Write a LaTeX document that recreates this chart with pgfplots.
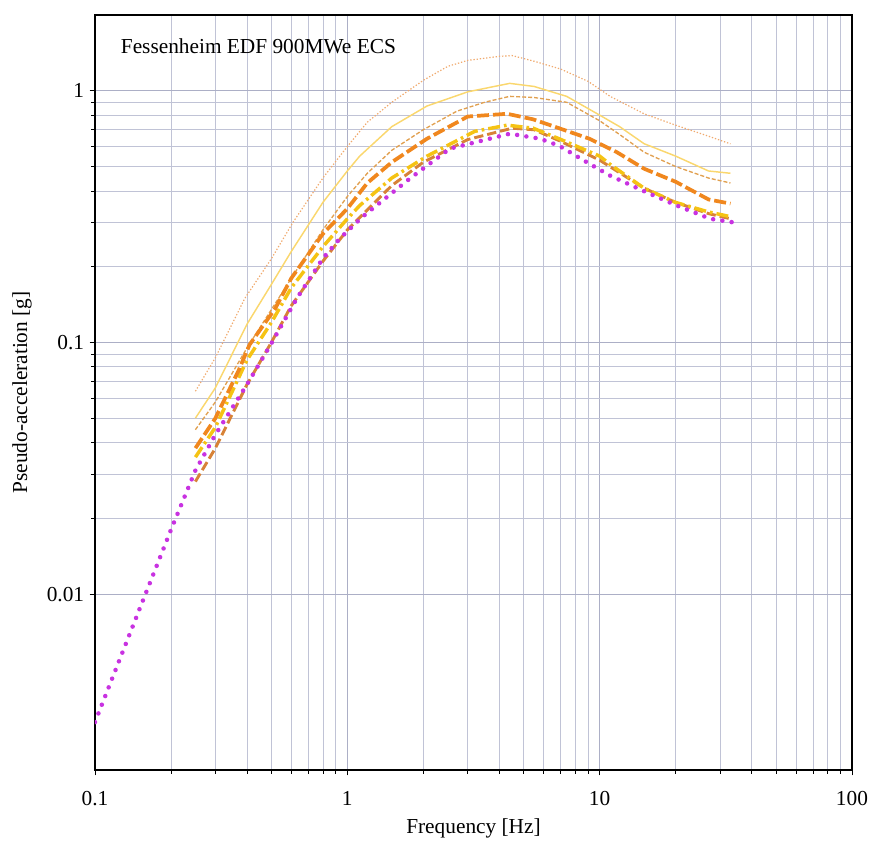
\documentclass[border=0pt]{standalone}
\usepackage{fontspec}
\setmainfont{Liberation Serif}
\usepackage{pgfplots}
\pgfplotsset{compat=1.18}
\definecolor{cA}{RGB}{240,170,110}
\definecolor{cB}{RGB}{250,215,110}
\definecolor{cC}{RGB}{225,160,80}
\definecolor{cD}{RGB}{240,135,30}
\definecolor{cE}{RGB}{245,195,20}
\definecolor{cF}{RGB}{215,130,55}
\definecolor{cG}{RGB}{200,50,225}
\definecolor{gmaj}{RGB}{172,175,198}
\definecolor{gmin}{RGB}{192,195,214}
\begin{document}
\begin{tikzpicture}
\begin{axis}[
  at={(0,0)}, anchor=south west,
  scale only axis, width=567.75pt, height=566.25pt,
  xmode=log, ymode=log,
  xmin=0.1, xmax=100, ymin=0.002, ymax=2,
  xtick={0.1,1,10,100}, xticklabels={0.1,1,10,100},
  ytick={0.01,0.1,1}, yticklabels={0.01,0.1,1},
  xtick pos=left, ytick pos=left,
  grid=both,
  major grid style={gmaj, line width=0.6pt},
  minor grid style={gmin, line width=0.5pt},
  tick align=outside,
  major tick length=4pt, minor tick length=3pt,
  every tick/.style={black, line width=0.5pt},
  axis line style={line width=1.1pt},
  tick label style={font=\fontsize{16}{19}\selectfont, inner sep=0pt},
  xticklabel shift=12pt,
  yticklabel shift=4pt,
  label style={font=\fontsize{16}{19}\selectfont},
  xlabel={Frequency [Hz]},
  ylabel={Pseudo-acceleration [g]},
  xlabel style={at={(axis description cs:0.5,-0.0768)}, anchor=center},
  ylabel style={at={(axis description cs:-0.0964,0.5)}, anchor=center},
]
% A: top thin dotted peach
\addplot[cA, line width=0.9pt, dash pattern=on 1pt off 1.4pt] coordinates {
(0.25,0.064) (0.3,0.087) (0.393,0.150) (0.5,0.215) (0.609,0.30) (0.8,0.45) (1.0,0.60)
(1.2,0.75) (1.5,0.90) (2.0,1.10) (2.5,1.25) (3.0,1.32) (4.0,1.37) (4.5,1.38)
(5.5,1.31) (7.0,1.22) (9.0,1.09) (11,0.95) (15,0.81) (20,0.73) (27,0.66) (33,0.615)};
% B: thin solid light yellow
\addplot[cB, line width=1.1pt] coordinates {
(0.25,0.050) (0.3,0.066) (0.4,0.118) (0.5,0.17) (0.6,0.23) (0.8,0.36) (1.0,0.48)
(1.12,0.55) (1.5,0.72) (2.07,0.87) (3.0,0.99) (4.4,1.07) (5.5,1.04) (7.4,0.95)
(10,0.80) (12,0.72) (15,0.616) (20,0.55) (27,0.48) (33,0.47)};
% C: thin dashed tan
\addplot[cC, line width=1pt, dash pattern=on 3pt off 1.5pt] coordinates {
(0.25,0.045) (0.3,0.058) (0.4,0.095) (0.5,0.135) (0.6,0.18) (0.8,0.28) (1.0,0.38)
(1.2,0.47) (1.5,0.58) (2.0,0.70) (2.72,0.83) (3.5,0.90) (4.4,0.95) (5.5,0.94)
(7.4,0.90) (10,0.76) (12,0.67) (15,0.57) (20,0.50) (27,0.45) (33,0.43)};
% F: lower brownish dashed
\addplot[cF, line width=2.2pt, dash pattern=on 7pt off 3pt] coordinates {
(0.25,0.028) (0.3,0.038) (0.4,0.068) (0.5,0.10) (0.6,0.14) (0.8,0.21) (1.0,0.28)
(1.5,0.42) (2.0,0.52) (3.0,0.64) (4.5,0.71) (5.5,0.70) (7.0,0.63) (10,0.53)
(15,0.41) (20,0.36) (27,0.325) (33,0.31)};
% E: thick dash-dot golden
\addplot[cE, line width=2.6pt, dash pattern=on 9pt off 3pt on 2pt off 3pt] coordinates {
(0.25,0.035) (0.3,0.046) (0.4,0.085) (0.5,0.12) (0.6,0.165) (0.8,0.24) (1.0,0.31)
(1.12,0.35) (1.5,0.45) (2.07,0.55) (3.2,0.69) (4.3,0.73) (5.45,0.71) (6.9,0.645)
(10,0.55) (11,0.51) (15,0.41) (20,0.36) (27,0.33) (33,0.316)};
% D: thick dashed orange
\addplot[cD, line width=2.8pt, dash pattern=on 9pt off 3pt] coordinates {
(0.25,0.038) (0.3,0.05) (0.37,0.077) (0.41,0.098) (0.517,0.136) (0.6,0.18) (0.8,0.27)
(1.0,0.34) (1.2,0.43) (1.5,0.52) (2.07,0.645) (3.0,0.79) (4.3,0.81) (5.45,0.77)
(6.9,0.71) (9.1,0.645) (11.7,0.57) (15,0.49) (20,0.435) (27,0.37) (33,0.356)};
% G: magenta dotted
\addplot[cG, line width=3.4pt, line cap=round, dash pattern=on 0pt off 7pt] coordinates {
(0.1,0.0031) (0.15,0.0087) (0.2,0.018) (0.25,0.031) (0.3,0.043) (0.4,0.068)
(0.494,0.097) (0.632,0.150) (0.801,0.216) (0.935,0.259) (1.15,0.316) (1.77,0.448)
(2.55,0.589) (3.67,0.645) (4.4,0.675) (5.8,0.645) (6.9,0.605) (9.1,0.513)
(11.0,0.46) (14.9,0.40) (20.2,0.35) (27.4,0.31) (33.8,0.30)};
\node[anchor=west, font=\fontsize{16}{19}\selectfont] at (rel axis cs:0.028,0.958) {Fessenheim EDF 900MWe ECS};
\end{axis}
\pgfresetboundingbox
\path[use as bounding box] (-71.25pt,-54.75pt) rectangle (580.5pt,577.5pt);
\end{tikzpicture}
\end{document}
